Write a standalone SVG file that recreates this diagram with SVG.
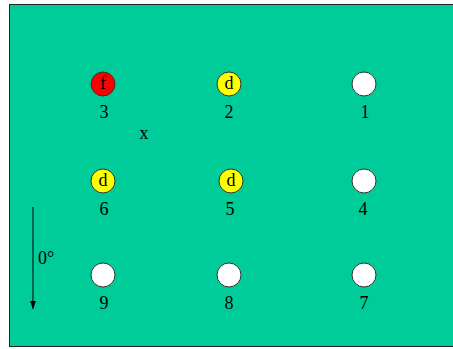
<svg xmlns="http://www.w3.org/2000/svg" width="453" height="349" viewBox="0 0 453 349">
<defs>
<style>
.c{stroke:#333;stroke-width:1}
.t{font-family:"Liberation Serif",serif;font-size:18px;fill:#000;text-anchor:middle}
.lbl{font-family:"Liberation Serif",serif;font-size:18px;fill:#000;text-anchor:middle;dominant-baseline:central}
</style>
<marker id="ah" viewBox="0 0 8 8" refX="8" refY="4" markerWidth="8" markerHeight="8" orient="auto" markerUnits="userSpaceOnUse">
<path d="M0,1 L8,4 L0,7 Z" fill="#000"/>
</marker>
</defs>
<rect x="9.5" y="4.5" width="450" height="342" fill="#00CC99" stroke="#222" stroke-width="1"/>
<g id="connectors">
<line x1="33" y1="207" x2="33" y2="309" stroke="#000" stroke-width="1" marker-end="url(#ah)"/>
</g>
<g id="n3"><circle class="c" cx="103" cy="84" r="12" fill="#FF0000"/><text class="lbl" x="103" y="83">f</text><text class="t" x="104" y="118">3</text></g>
<g id="n2"><circle class="c" cx="229" cy="84" r="12" fill="#FFFF00"/><text class="lbl" x="229" y="83">d</text><text class="t" x="229" y="118">2</text></g>
<g id="n1"><circle class="c" cx="364" cy="84" r="12" fill="#FFFFFF"/><text class="t" x="365" y="118">1</text></g>
<g id="n6"><circle class="c" cx="103" cy="181" r="12" fill="#FFFF00"/><text class="lbl" x="103" y="180">d</text><text class="t" x="104" y="215">6</text></g>
<g id="n5"><circle class="c" cx="231" cy="181" r="12" fill="#FFFF00"/><text class="lbl" x="231" y="180">d</text><text class="t" x="230" y="215">5</text></g>
<g id="n4"><circle class="c" cx="364" cy="181" r="12" fill="#FFFFFF"/><text class="t" x="363" y="215">4</text></g>
<g id="n9"><circle class="c" cx="103" cy="275" r="12" fill="#FFFFFF"/><text class="t" x="104" y="309">9</text></g>
<g id="n8"><circle class="c" cx="229" cy="275" r="12" fill="#FFFFFF"/><text class="t" x="229" y="309">8</text></g>
<g id="n7"><circle class="c" cx="364" cy="275" r="12" fill="#FFFFFF"/><text class="t" x="364" y="309">7</text></g>
<text class="t" x="144" y="139">x</text>
<text class="t" x="46" y="264">0°</text>
</svg>
